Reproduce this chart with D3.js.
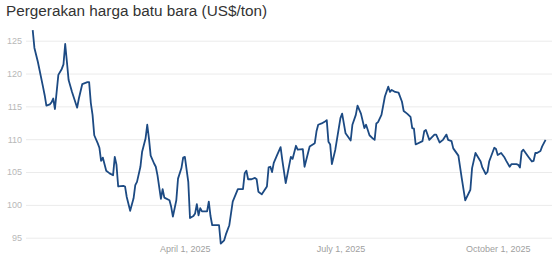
<!DOCTYPE html>
<html>
<head>
<meta charset="utf-8">
<script src="https://cdn.jsdelivr.net/npm/d3@7"></script>
<style>
  body { margin: 0; background: #fff; }
  svg { display: block; font-family: "Liberation Sans", Arial, sans-serif; }
</style>
</head>
<body>
<svg id="chart" width="554" height="261"></svg>
<script>
// coal price, US$/ton
const dates = [
  "2025-01-02","2025-01-03","2025-01-05","2025-01-08","2025-01-09","2025-01-10","2025-01-12","2025-01-13",
  "2025-01-14","2025-01-15","2025-01-17","2025-01-19","2025-01-20","2025-01-21","2025-01-22","2025-01-23",
  "2025-01-25","2025-01-28","2025-01-29","2025-01-31","2025-02-03","2025-02-04","2025-02-05","2025-02-06",
  "2025-02-07","2025-02-09","2025-02-10","2025-02-11","2025-02-12","2025-02-14","2025-02-16","2025-02-18",
  "2025-02-19","2025-02-20","2025-02-21","2025-02-24","2025-02-25","2025-02-26","2025-02-28","2025-03-02",
  "2025-03-03","2025-03-04","2025-03-06","2025-03-07","2025-03-09","2025-03-10","2025-03-11","2025-03-12",
  "2025-03-14","2025-03-15","2025-03-16","2025-03-18","2025-03-19","2025-03-20","2025-03-23","2025-03-24",
  "2025-03-25","2025-03-27","2025-03-28","2025-03-30","2025-03-31","2025-04-01","2025-04-03","2025-04-04",
  "2025-04-06","2025-04-07","2025-04-08","2025-04-09","2025-04-10","2025-04-11","2025-04-14","2025-04-15",
  "2025-04-16","2025-04-17","2025-04-21","2025-04-22","2025-04-24","2025-04-25","2025-04-27","2025-04-29",
  "2025-05-02","2025-05-05","2025-05-06","2025-05-07","2025-05-08","2025-05-10","2025-05-12","2025-05-13",
  "2025-05-14","2025-05-16","2025-05-19","2025-05-20","2025-05-21","2025-05-22","2025-05-23","2025-05-25",
  "2025-05-27","2025-05-28","2025-05-30","2025-06-02","2025-06-03","2025-06-05","2025-06-06","2025-06-09",
  "2025-06-10","2025-06-13","2025-06-16","2025-06-17","2025-06-18","2025-06-20","2025-06-22","2025-06-23",
  "2025-06-24","2025-06-25","2025-06-26","2025-06-28","2025-07-01","2025-07-02","2025-07-04","2025-07-07",
  "2025-07-08","2025-07-10","2025-07-11","2025-07-13","2025-07-15","2025-07-16","2025-07-18","2025-07-20",
  "2025-07-21","2025-07-22","2025-07-23","2025-07-25","2025-07-27","2025-07-29","2025-07-30","2025-07-31",
  "2025-08-02","2025-08-04","2025-08-06","2025-08-07","2025-08-09","2025-08-11","2025-08-12","2025-08-13",
  "2025-08-14","2025-08-18","2025-08-19","2025-08-20","2025-08-22","2025-08-25","2025-08-26","2025-08-28",
  "2025-08-30","2025-09-01","2025-09-02","2025-09-04","2025-09-05","2025-09-08","2025-09-10","2025-09-12",
  "2025-09-15","2025-09-16","2025-09-18","2025-09-21","2025-09-22","2025-09-24","2025-09-25","2025-09-26",
  "2025-09-29","2025-09-30","2025-10-01","2025-10-03","2025-10-05","2025-10-06","2025-10-08","2025-10-09",
  "2025-10-12","2025-10-13","2025-10-14","2025-10-15","2025-10-16","2025-10-19","2025-10-21","2025-10-22",
  "2025-10-23","2025-10-24","2025-10-26","2025-10-27","2025-10-29"
];
const prices = [
  126.6,123.9,121.8,118.0,116.7,115.1,115.3,115.6,
  116.2,114.6,119.8,120.7,121.4,124.5,121.8,119.0,
  117.2,114.8,116.2,118.4,118.7,118.7,115.5,113.7,
  110.6,109.4,108.7,106.7,107.2,105.2,104.8,104.5,
  107.3,106.1,102.8,102.9,102.8,101.2,99.1,101.0,
  103.0,103.5,105.8,108.1,110.1,112.2,110.1,107.5,
  106.3,105.8,104.5,100.9,102.4,101.1,100.7,99.7,
  98.2,100.7,104.0,105.6,107.2,107.3,103.5,98.0,
  98.3,98.7,100.1,98.4,99.5,99.0,99.0,100.5,
  98.3,96.9,96.9,94.1,94.6,95.5,96.9,100.5,
  102.4,102.4,104.8,105.2,103.9,103.9,104.1,103.9,
  102.0,101.6,102.8,105.7,105.8,105.0,106.4,107.6,
  108.8,106.8,103.3,107.3,107.0,109.0,108.4,108.5,
  105.8,108.9,109.4,111.2,112.2,112.4,112.7,112.9,
  109.6,109.2,106.2,108.4,113.2,113.9,110.9,109.8,
  112.2,113.7,115.1,113.9,111.7,112.2,110.6,110.1,
  109.9,112.4,112.6,113.7,116.5,118.0,117.2,117.5,
  117.2,117.1,115.7,114.3,113.9,113.4,111.7,111.6,
  109.2,109.7,111.2,111.4,109.9,110.7,110.7,109.5,
  109.9,110.7,109.9,109.7,108.6,107.5,104.0,100.7,
  102.3,105.6,107.9,106.6,105.7,104.7,105.0,106.6,
  108.7,108.5,107.6,107.9,107.2,106.7,105.8,106.2,
  106.2,106.1,105.7,108.1,108.4,107.3,106.6,106.7,
  107.9,107.9,108.2,108.9,109.9
];
const yTicks = [95, 100, 105, 110, 115, 120, 125];
const xTicks = ["2025-04-01", "2025-07-01", "2025-10-01"];
const title = "Pergerakan harga batu bara (US$/ton)";

const parse = d3.timeParse("%Y-%m-%d");
const data = dates.map((d, i) => ({ date: parse(d), value: prices[i] }));

const svg = d3.select("#chart");
const width = +svg.attr("width");

const x = d3.scaleTime()
  .domain([parse("2025-01-01"), parse("2025-10-31")])
  .range([31, 549]);
const y = d3.scaleLinear()
  .domain([95, 125])
  .range([237.7, 40.7]);

svg.append("text")
  .attr("x", 6)
  .attr("y", 16)
  .attr("fill", "#333")
  .style("font-size", "15.3px")
  .text(title);

// horizontal grid + y labels
const yAxis = d3.axisLeft(y)
  .tickValues(yTicks)
  .tickSize(-(width - 2 - 26))
  .tickPadding(4)
  .tickFormat(d3.format("d"));
const gy = svg.append("g")
  .attr("transform", "translate(26,0)")
  .call(yAxis);
gy.select(".domain").remove();
gy.selectAll(".tick line").attr("stroke", "#ebebeb").attr("stroke-width", 1);
gy.selectAll(".tick text")
  .attr("fill", "#b8b8b8")
  .style("font-size", "9px")
  .style("font-family", "'Liberation Sans', Arial, sans-serif");

// x labels
const xAxis = d3.axisBottom(x)
  .tickValues(xTicks.map(parse))
  .tickSize(0)
  .tickPadding(0)
  .tickFormat(d3.timeFormat("%B %-d, %Y"));
const gx = svg.append("g")
  .attr("transform", "translate(0,246)")
  .call(xAxis);
gx.select(".domain").remove();
gx.selectAll(".tick text")
  .attr("fill", "#a0a0a0")
  .style("font-size", "9px")
  .style("font-family", "'Liberation Sans', Arial, sans-serif");

const line = d3.line()
  .x(d => x(d.date))
  .y(d => y(d.value));

svg.append("path")
  .datum(data)
  .attr("fill", "none")
  .attr("stroke", "#1c4a83")
  .attr("stroke-width", 1.8)
  .attr("stroke-linejoin", "round")
  .attr("d", line);
</script>
</body>
</html>
